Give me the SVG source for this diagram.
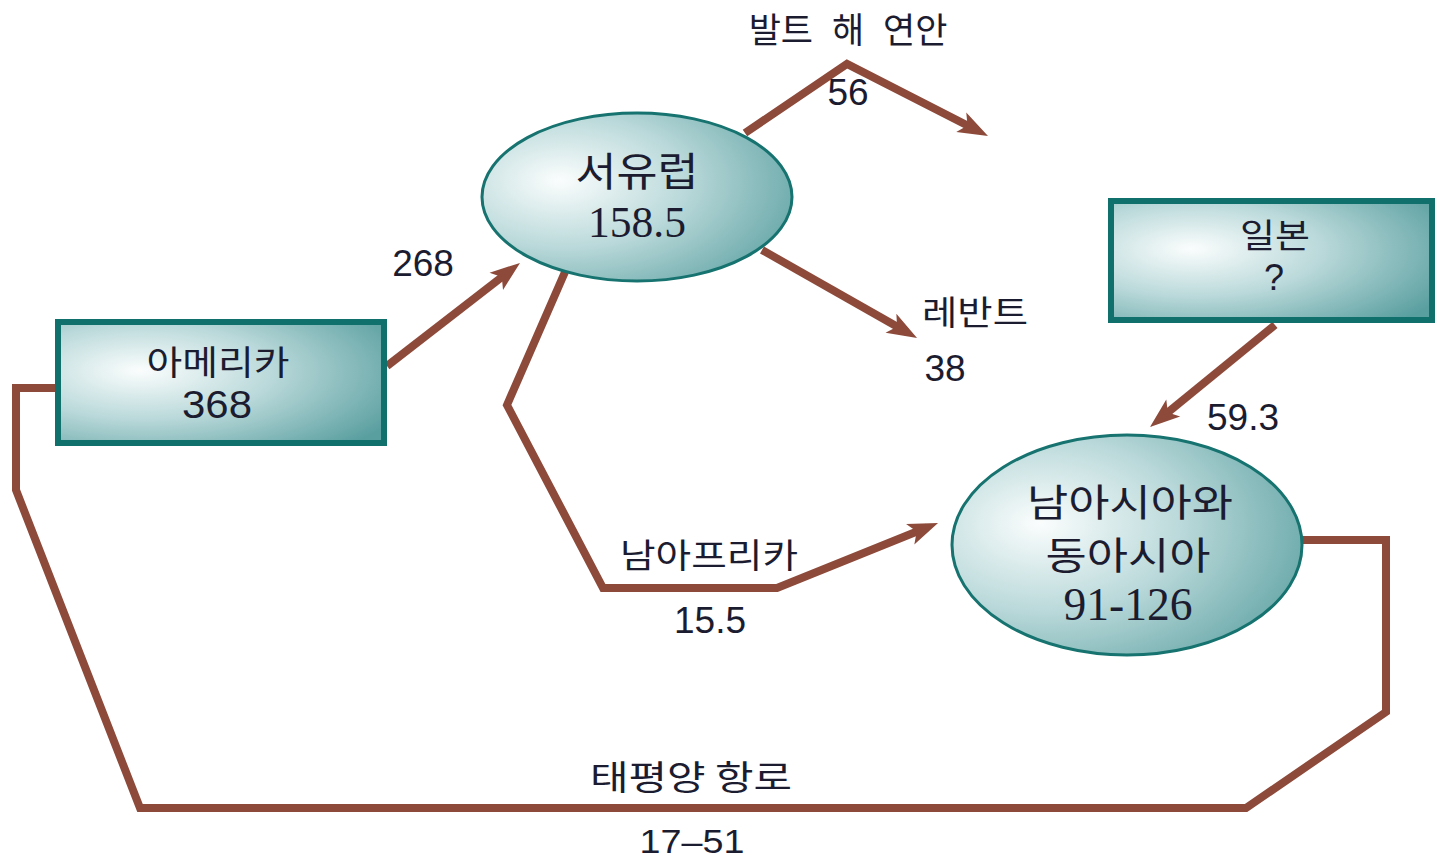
<svg xmlns="http://www.w3.org/2000/svg" width="1435" height="858" viewBox="0 0 1435 858">
<defs>
<radialGradient id="tealGrad" cx="0.28" cy="0.42" r="0.85" fx="0.25" fy="0.4">
<stop offset="0" stop-color="#fbfdfd"/>
<stop offset="0.45" stop-color="#bcdadb"/>
<stop offset="1" stop-color="#5a9fa0"/>
</radialGradient>
<marker id="arrow" markerUnits="userSpaceOnUse" viewBox="-6 -13 34 26" markerWidth="34" markerHeight="26" refX="14" refY="0" orient="auto">
<path d="M-4,-11 L26,0 L-4,11 L3,0 Z" fill="#8d4a3a"/>
</marker>
<style>
.conn{fill:none;stroke:#8d4a3a;stroke-width:8;stroke-linejoin:miter}
.arr{marker-end:url(#arrow)}
.box{fill:url(#tealGrad);stroke:#10706b;stroke-width:6}
.ell{fill:url(#tealGrad);stroke:#16736f;stroke-width:3}
.lbl{font-family:"Liberation Sans","Noto Sans CJK KR",sans-serif;fill:#1c1c30;text-anchor:middle}
.kr{font-family:"Noto Sans CJK KR","Liberation Sans",sans-serif;fill:#1c1c30;text-anchor:middle}
.num{font-family:"Liberation Serif","Noto Sans CJK KR",serif;fill:#1c1c30;text-anchor:middle}
</style>
</defs>
<rect width="1435" height="858" fill="#ffffff"/>
<g id="connectors">
<polyline class="conn arr" points="387,366 510.5,270.3"/>
<polyline class="conn arr" points="745,133 847,64 977.3,130.5"/>
<polyline class="conn arr" points="762,250 906.6,332.1"/>
<polyline class="conn arr" points="565,272 507,405 603,588 777,588 926.9,527.5"/>
<polyline class="conn arr" points="1275,325 1159.3,419.4"/>
<polyline class="conn" points="1295,540 1386,540 1386,712 1246,808 140,808 16,490 16,388 60,388"/>
</g>
<g id="edge-labels">
<text class="kr" x="848" y="43" font-size="35" word-spacing="11">발트 해 연안</text>
<text class="lbl" x="848" y="105" font-size="37">56</text>
<text class="lbl" x="423" y="276" font-size="37">268</text>
<text class="kr" x="975" y="325" font-size="34" textLength="106" lengthAdjust="spacingAndGlyphs">레반트</text>
<text class="lbl" x="945" y="381" font-size="37">38</text>
<text class="lbl" x="1243" y="430" font-size="37">59.3</text>
<text class="kr" x="709" y="568" font-size="34" textLength="178" lengthAdjust="spacingAndGlyphs">남아프리카</text>
<text class="lbl" x="710" y="633" font-size="37">15.5</text>
<text class="kr" x="691" y="790" font-size="34" textLength="202" lengthAdjust="spacingAndGlyphs">태평양 항로</text>
<text class="lbl" x="692" y="853" font-size="34" textLength="105" lengthAdjust="spacingAndGlyphs">17–51</text>
</g>
<g id="node-westeurope">
<ellipse class="ell" cx="637" cy="197" rx="155" ry="84"/>
<text class="kr" x="637" y="186" font-size="40" textLength="123" lengthAdjust="spacingAndGlyphs">서유럽</text>
<text class="num" x="637" y="237" font-size="44" textLength="98" lengthAdjust="spacingAndGlyphs">158.5</text>
</g>
<g id="node-america">
<rect class="box" x="58" y="322" width="326" height="121"/>
<text class="kr" x="218" y="375" font-size="34" textLength="143" lengthAdjust="spacingAndGlyphs">아메리카</text>
<text class="lbl" x="217" y="418" font-size="39" textLength="70" lengthAdjust="spacingAndGlyphs">368</text>
</g>
<g id="node-japan">
<rect class="box" x="1111" y="201" width="321" height="119"/>
<text class="kr" x="1275" y="248" font-size="34" textLength="70" lengthAdjust="spacingAndGlyphs">일본</text>
<text class="lbl" x="1274" y="290" font-size="36">?</text>
</g>
<g id="node-asia">
<ellipse class="ell" cx="1127" cy="545" rx="175" ry="110"/>
<text class="kr" x="1130" y="516" font-size="38" textLength="206" lengthAdjust="spacingAndGlyphs">남아시아와</text>
<text class="kr" x="1128" y="569" font-size="38" textLength="165" lengthAdjust="spacingAndGlyphs">동아시아</text>
<text class="num" x="1128" y="620" font-size="47" textLength="129" lengthAdjust="spacingAndGlyphs">91-126</text>
</g>
</svg>
